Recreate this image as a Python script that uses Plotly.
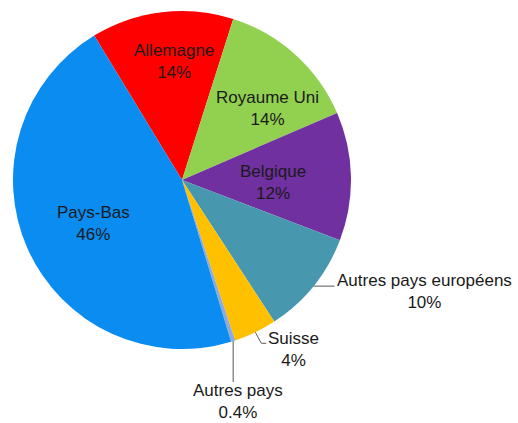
import math
import plotly.graph_objects as go

# ---- data ----
labels = ["Allemagne", "Royaume Uni", "Belgique", "Autres pays européens",
          "Suisse", "Autres pays", "Pays-Bas"]
values = [13.6, 13.6, 12.3, 10.0, 4.1, 0.4, 46.0]
pct_text = ["14%", "14%", "12%", "10%", "4%", "0.4%", "46%"]
colors = ["#FF0000", "#92D050", "#7030A0", "#4797AE", "#FFC000", "#8EA9DB", "#0A8CF0"]

# ---- layout geometry (pixels, in window coordinates) ----
W, H = 518, 423
CX, CY, R = 182, 180, 169
ROT = -31.3
FONT = "Arial, Liberation Sans, sans-serif"
FS = 17
TXT = "#1a1a1a"

def px2paper(x, y):
    return x / W, 1 - y / H

def edge_point(angle_deg, rr):
    a = math.radians(angle_deg)
    return CX + rr * math.sin(a), CY - rr * math.cos(a)

total = sum(values)
mids = []
cum = ROT
for v in values:
    span = 360 * v / total
    mids.append(cum + span / 2)
    cum += span

dx0, dy1 = px2paper(CX - R, CY - R)
dx1, dy0 = px2paper(CX + R, CY + R)

fig = go.Figure(go.Pie(
    labels=labels, values=values, sort=False, direction="clockwise",
    rotation=ROT, marker=dict(colors=colors, line=dict(width=0)),
    textinfo="none", hoverinfo="label+percent", showlegend=False,
    domain=dict(x=[dx0, dx1], y=[dy0, dy1]),
))

annotations = []
shapes = []

def label(x, y, i, anchor="center"):
    px, py = px2paper(x, y)
    annotations.append(dict(x=px, y=py, xref="paper", yref="paper",
                            text=f"{labels[i]}<br>{pct_text[i]}", showarrow=False,
                            font=dict(family=FONT, size=FS, color=TXT),
                            xanchor=anchor, yanchor="middle", align="center"))

# inside labels: radius fraction and angle tweak per slice
inside = {0: (0.70, 3.0), 1: (0.66, 8.0), 2: (0.54, 3.0), 6: (0.58, -2.0)}
for i, (fr, da) in inside.items():
    x, y = edge_point(mids[i] + da, R * fr)
    label(x, y, i)

def line(p0, p1):
    x0, y0 = px2paper(*p0)
    x1, y1 = px2paper(*p1)
    shapes.append(dict(type="line", xref="paper", yref="paper", x0=x0, y0=y0, x1=x1, y1=y1,
                       line=dict(color="#595959", width=1)))

# Autres pays européens
p = edge_point(mids[3], R)
line(p, (p[0] + 21, p[1]))
label(p[0] + 23 + 88, p[1] + 5, 3)

# Suisse
p = edge_point(mids[4], R)
q = (p[0] + 6, p[1] + 11)
line(p, q)
line(q, (q[0] + 5, q[1]))
label(q[0] + 32, q[1] + 6, 4)

# Autres pays
p = edge_point(mids[5], R)
q = (p[0], p[1] + 41)
line(p, q)
label(q[0] + 5, q[1] + 19, 5)

fig.update_layout(width=W, height=H, margin=dict(l=0, r=0, t=0, b=0),
                  paper_bgcolor="white", plot_bgcolor="white",
                  annotations=annotations, shapes=shapes)

fig.write_html("out.html", config={"displayModeBar": False},
               post_script="document.body.style.margin='0';document.body.style.overflow='hidden';")
